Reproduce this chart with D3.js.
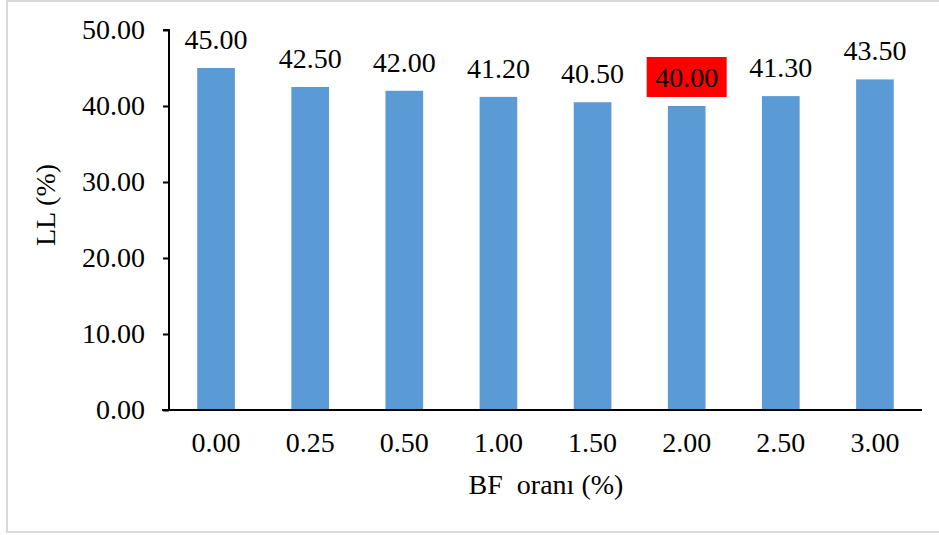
<!DOCTYPE html>
<html>
<head>
<meta charset="utf-8">
<script src="https://cdn.jsdelivr.net/npm/d3@7"></script>
<style>
html,body{margin:0;padding:0;background:#fff;}
</style>
</head>
<body>
<svg id="chart" width="939" height="535"></svg>
<script>
const categories = ["0.00","0.25","0.50","1.00","1.50","2.00","2.50","3.00"];
const values = [45.00, 42.50, 42.00, 41.20, 40.50, 40.00, 41.30, 43.50];
const labels = ["45.00","42.50","42.00","41.20","40.50","40.00","41.30","43.50"];
const yTicks = [0,10,20,30,40,50];
const highlightIndex = 5;
const xTitle = "BF  oranı (%)";
const yTitle = "LL (%)";

(function(){
const svg = d3.select("#chart");
const mLeft = 169, mRight = 922, mTop = 30, mBottom = 410;
const fs = "28px";
const ff = "Liberation Serif";

// outer border
svg.append("rect").attr("x",7).attr("y",1).attr("width",940).attr("height",531)
  .attr("fill","none").attr("stroke","#d9d9d9").attr("stroke-width",2);

const x = d3.scaleBand().domain(categories).range([mLeft,mRight]).paddingInner(0.6).paddingOuter(0.3);
const y = d3.scaleLinear().domain([0,50]).range([mBottom,mTop]);

svg.selectAll("rect.bar").data(values).join("rect").attr("class","bar")
  .attr("x",(d,i)=>x(categories[i])).attr("width",x.bandwidth())
  .attr("y",d=>y(d)).attr("height",d=>y(0)-y(d)).attr("fill","#5B9BD5");

// y axis
const yAxis = d3.axisLeft(y).tickValues(yTicks).tickFormat(d3.format(".2f")).tickSize(6).tickPadding(18);
const gy = svg.append("g").attr("transform",`translate(${mLeft},0)`).call(yAxis);
gy.attr("font-family",null).attr("font-size",null);
gy.select(".domain").attr("stroke","#000").attr("stroke-width",2).attr("d",`M-6,${mTop}H0V${mBottom}`);
gy.selectAll(".tick line").attr("stroke","#000").attr("stroke-width",2);
gy.selectAll(".tick text").style("font-family",ff).style("font-size",fs).style("fill","#000").attr("dy","0.32em");

// x axis
const xAxis = d3.axisBottom(x).tickSize(0).tickPadding(22);
const gx = svg.append("g").attr("transform",`translate(0,${mBottom})`).call(xAxis);
gx.attr("font-family",null).attr("font-size",null);
gx.select(".domain").attr("stroke","#000").attr("stroke-width",2).attr("d",`M${mLeft-7},0H${mRight}`);
gx.selectAll(".tick text").style("font-family",ff).style("font-size",fs).style("fill","#000");

// highlight box
const hc = x(categories[highlightIndex]) + x.bandwidth()/2;
svg.append("rect").attr("x",hc-40).attr("y",y(values[highlightIndex])-49).attr("width",80).attr("height",40).attr("fill","#FF0000");

// value labels
svg.selectAll("text.val").data(values).join("text").attr("class","val")
  .attr("x",(d,i)=>x(categories[i])+x.bandwidth()/2)
  .attr("y",d=>y(d)-19)
  .attr("text-anchor","middle").style("font-family",ff).style("font-size",fs).style("fill","#000")
  .text((d,i)=>labels[i]);

// titles
svg.append("text").attr("x",546).attr("y",494).attr("text-anchor","middle")
  .style("font-family",ff).style("font-size",fs).style("fill","#000").style("white-space","pre").text(xTitle);
svg.append("text").attr("transform","translate(55,205) rotate(-90)").attr("text-anchor","middle")
  .style("font-family",ff).style("font-size",fs).style("fill","#000").text(yTitle);
})();
</script>
</body>
</html>
